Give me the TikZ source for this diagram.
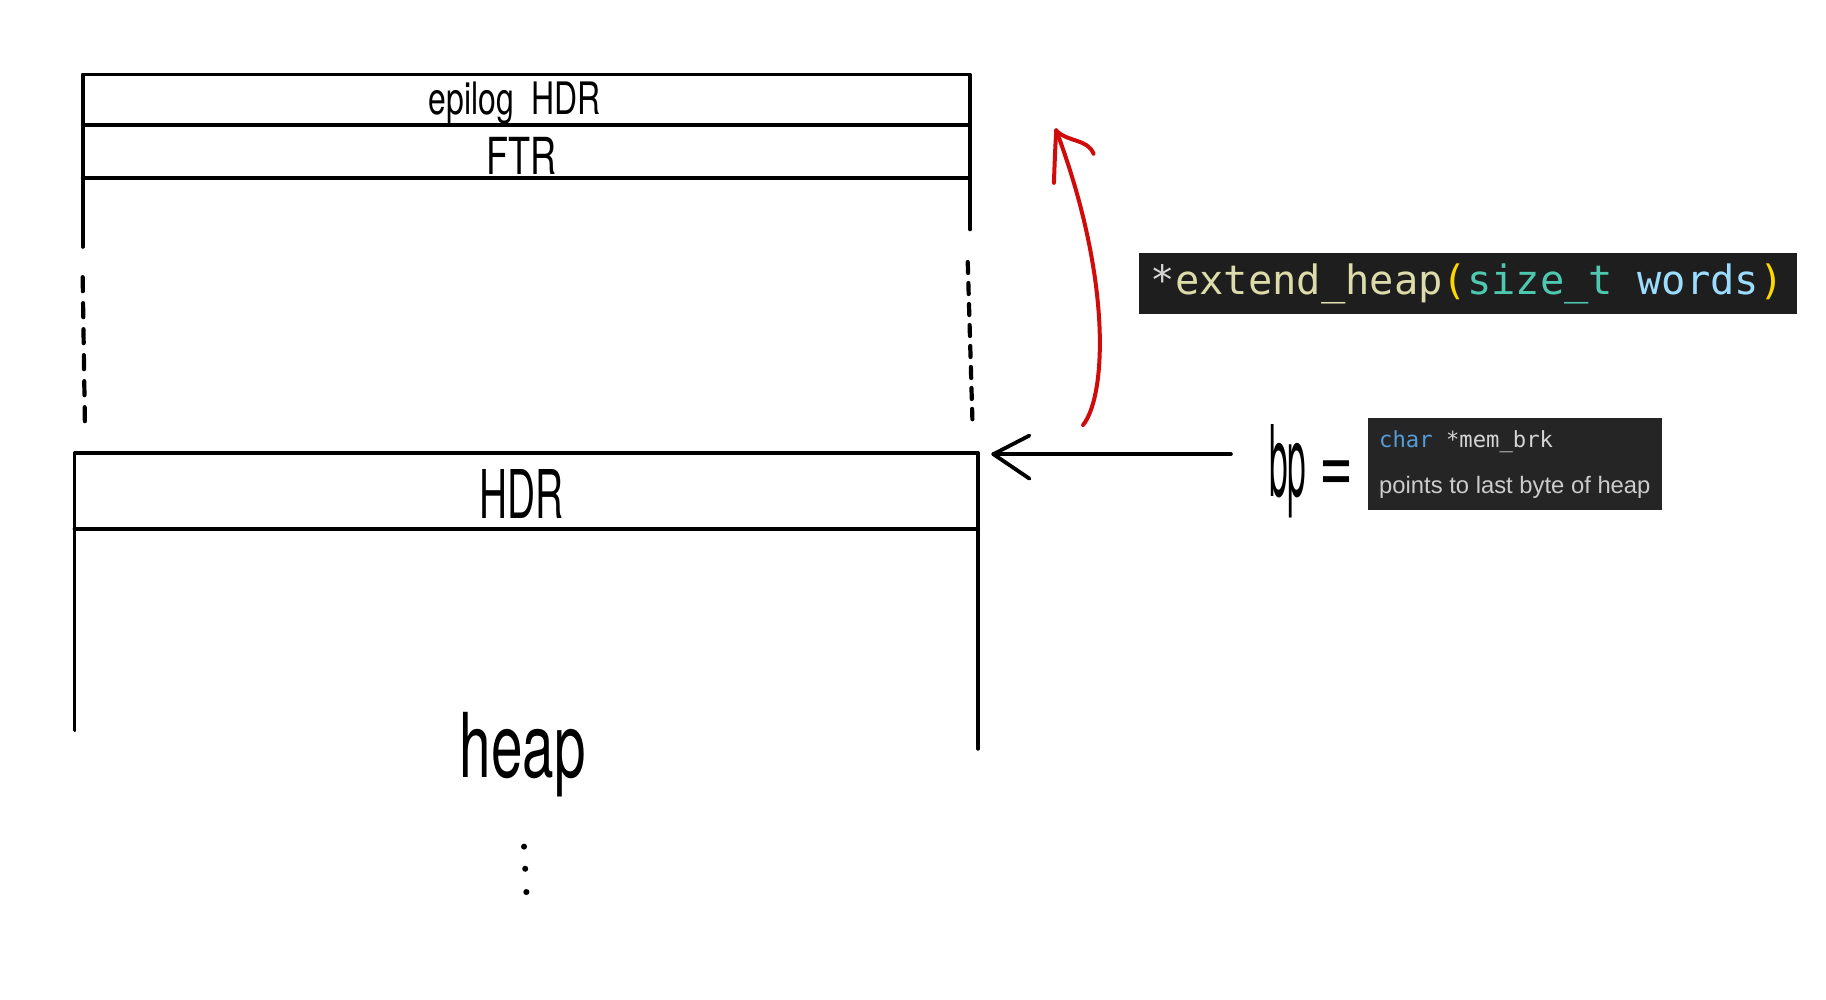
\documentclass[tikz,border=0pt]{standalone}
\usepackage{fontspec}
\setsansfont{TeX Gyre Heros}
\newfontfamily\codefont{DejaVu Sans Mono}
\newfontfamily\uifont{Liberation Sans}
\usetikzlibrary{calc}
\definecolor{inkred}{HTML}{D10A0A}
\definecolor{panelbg}{HTML}{1E1E1E}
\definecolor{hoverbg}{HTML}{252526}
\definecolor{fnyellow}{HTML}{DCDCAA}
\definecolor{parenyellow}{HTML}{FFD700}
\definecolor{typeteal}{HTML}{4EC9B0}
\definecolor{varblue}{HTML}{9CDCFE}
\definecolor{kwblue}{HTML}{569CD6}
\definecolor{codegray}{HTML}{D4D4D4}
\definecolor{docgray}{HTML}{CCCCCC}
\newcommand{\hw}[3]{\resizebox{#1}{#2}{\sffamily #3}}
\begin{document}
\begin{tikzpicture}[x=0.58225pt,y=-0.58225pt,
  wall/.style={line width=1.9pt, line cap=round, line join=round},
  dashwall/.style={line width=2.1pt, line cap=round, dash pattern=on 7pt off 6pt},
  redline/.style={inkred, line width=2pt, line cap=round, line join=round},
  hand/.style={inner sep=0pt, outer sep=0pt, anchor=base},
  panel/.style={fill=panelbg, draw=none, inner sep=0pt, anchor=north west}]
\useasboundingbox (0,0) rectangle (1568,858.7);

% ---------- upper block ----------
\coordinate (tl) at (71,64);   \coordinate (tr) at (833,64);
\coordinate (m1l) at (71,107); \coordinate (m1r) at (833,107);
\coordinate (m2l) at (71,153); \coordinate (m2r) at (833,153);
\coordinate (tlb) at (71,212); \coordinate (trb) at (833,197);
\draw[wall] (tlb) -- (tl) -- (tr) -- (trb);
\draw[wall] (m1l) -- (m1r);
\draw[wall] (m2l) -- (m2r);

% dashed walls
\coordinate (ld1) at (71,238); \coordinate (ld2) at (73,370);
\coordinate (rd1) at (831,225); \coordinate (rd2) at (835,360);
\draw[dashwall] (ld1) -- (ld2);
\draw[dashwall, dash pattern=on 5.5pt off 5pt] (rd1) -- (rd2);

% ---------- lower block ----------
\coordinate (bl) at (64,389);  \coordinate (br) at (840,389);
\coordinate (hl) at (64,454);  \coordinate (hr) at (840,454);
\coordinate (blb) at (64,627); \coordinate (brb) at (840,643);
\draw[wall] (blb) -- (bl) -- (br) -- (brb);
\draw[wall] (hl) -- (hr);

% ---------- handwritten labels ----------
\node[hand] (epi) at (442,98) {\hw{86pt}{16.3pt}{epilog\ \ HDR}};
\node[hand] (ftr) at (448,150) {\hw{35pt}{18.6pt}{FTR}};
\node[hand] (hdr) at (448,445) {\hw{42pt}{24.5pt}{HDR}};
\node[hand] (heap) at (449,668) {\hw{63pt}{32.6pt}{heap}};
\node[hand] (bp) at (1106,426) {\hw{18.6pt}{36pt}{bp}};
\node[inner sep=0pt] (eq) at (1148,410) {\scalebox{1}[1.5]{\resizebox{17pt}{!}{\sffamily =}}};

% dots below heap
\fill (450,727) circle (2.6);
\fill (451,746) circle (2.6);
\fill (452,766) circle (2.6);

% ---------- black arrow ----------
\coordinate (bpS) at (1057,390);
\coordinate (bpT) at (853,390);
\coordinate (bpA1) at (884,374);
\coordinate (bpA2) at (884,411);
\draw[wall] (bpS) -- (bpT);
\draw[wall] (bpA1) -- (bpT) -- (bpA2);

% ---------- red arrow ----------
\coordinate (rs) at (930,365);
\coordinate (rt) at (907,112);
\coordinate (ra1) at (905,157);
\coordinate (ra2) at (939,132);
\draw[redline] (rs) .. controls (950,340) and (955,240) .. (rt);
\draw[redline] (rt) .. controls (906,130) .. (ra1);
\draw[redline] (rt) .. controls (916,122) and (934,119) .. (ra2);

% ---------- code panels ----------
\node[panel, minimum width=329pt, minimum height=30.3pt] (ext) at (978,217) {};
\node[anchor=west, inner sep=0pt] (exttext) at (988,244)
  {\codefont\fontsize{20.2pt}{24pt}\selectfont
   \textcolor{codegray}{*}\textcolor{fnyellow}{extend\_heap}\textcolor{parenyellow}{(}\textcolor{typeteal}{size\_t} \textcolor{varblue}{words}\textcolor{parenyellow}{)}};

\node[panel, fill=hoverbg, minimum width=147.3pt, minimum height=46pt] (mem) at (1174,359) {};
\node[anchor=base west, inner sep=0pt] (memsig) at (1184,384)
  {\codefont\fontsize{11.1pt}{13pt}\selectfont\textcolor{kwblue}{char} \textcolor{codegray}{*mem\_brk}};
\node[anchor=base west, inner sep=0pt] (memdoc) at (1184,424)
  {\uifont\fontsize{11.9pt}{14pt}\selectfont\textcolor{docgray}{points to last byte of heap}};
\end{tikzpicture}
\end{document}
